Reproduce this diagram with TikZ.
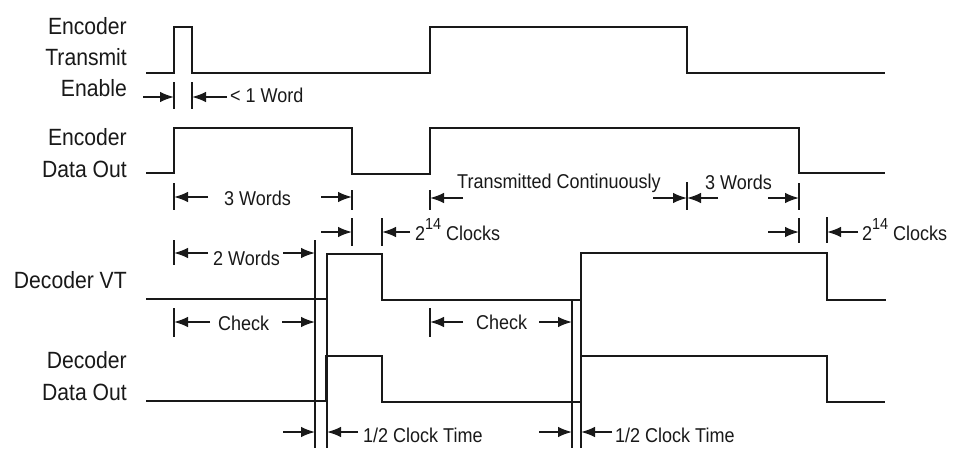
\documentclass[tikz,border=0pt]{standalone}
\usepackage{fontspec}
\setmainfont[FakeStretch=0.9]{Liberation Sans}
\usetikzlibrary{arrows.meta}
\definecolor{ink}{RGB}{25,25,25}
\newcommand\clockspow{2\raisebox{11pt}{\fontsize{16}{16}\selectfont 14} Clocks}
\begin{document}
\begin{tikzpicture}[x=1pt,y=-1pt,
  sig/.style={draw=ink, line width=1.8pt, line join=miter},
  ext/.style={draw=ink, line width=1.6pt},
  dimarrow/.style={draw=ink, line width=1.6pt, -{Latex[length=14pt,width=10.5pt]}},
  lab/.style={text=ink, font=\fontsize{23.5}{26}\selectfont, anchor=base east, inner sep=0pt},
  dimlab/.style={text=ink, font=\fontsize{20}{22}\selectfont, anchor=base west, inner sep=0pt}]
\useasboundingbox[fill=white] (0,0) rectangle (955,452);

% ---------- signal labels ----------
\node[lab] (l1a) at (127,34.5) {Encoder};
\node[lab] (l1b) at (127,65.5) {Transmit};
\node[lab] (l1c) at (127,96.5) {Enable};
\node[lab] (l2a) at (127,145) {Encoder};
\node[lab] (l2b) at (127,177) {Data Out};
\node[lab] (l3a) at (127,288) {Decoder VT};
\node[lab] (l4a) at (127,368) {Decoder};
\node[lab] (l4b) at (127,400) {Data Out};

% ---------- waveforms ----------
\draw[sig] (146,73) -- (174,73) -- (174,27) -- (192,27) -- (192,73) -- (430,73) -- (430,27) -- (687,27) -- (687,73) -- (885,73);
\draw[sig] (146,173) -- (174,173) -- (174,128) -- (352,128) -- (352,174) -- (430,174) -- (430,128) -- (799,128) -- (799,173) -- (885,173);
\draw[sig] (146,299) -- (327,299) -- (327,254) -- (382,254) -- (382,300) -- (581,300) -- (581,253) -- (827,253) -- (827,300) -- (886,300);
\draw[sig] (146,401) -- (326,401) -- (326,356) -- (382,356) -- (382,402) -- (581,402) -- (581,356) -- (827,356) -- (827,402) -- (885,402);

% ---------- long extension lines ----------
\draw[ext] (315,240) -- (315,448);
\draw[ext] (327,254) -- (327,448);
\draw[ext] (572,300) -- (572,448);
\draw[ext] (581,253) -- (581,448);

% ---------- < 1 Word ----------
\draw[ext] (174,82) -- (174,109);
\draw[ext] (192,82) -- (192,109);
\draw[dimarrow] (143,97) -- (174,97);
\draw[dimarrow] (227,97) -- (192,97);
\node[dimlab] (t1) at (230,102) {< 1 Word};

% ---------- 3 Words (first) ----------
\draw[ext] (174,183) -- (174,210);
\draw[ext] (352,190) -- (352,210);
\draw[dimarrow] (208,197) -- (174,197);
\draw[dimarrow] (321,197) -- (352,197);
\node[dimlab] (t2) at (224,205) {3 Words};

% ---------- Transmitted Continuously / 3 Words ----------
\draw[ext] (430,190) -- (430,210);
\draw[ext] (687,182) -- (687,210);
\draw[ext] (799,183) -- (799,210);
\draw[dimarrow] (463,198) -- (430,198);
\draw[dimarrow] (653,198) -- (687,198);
\draw[dimarrow] (718,198) -- (687,198);
\draw[dimarrow] (768,198) -- (799,198);
\node[dimlab] (t3) at (457,188) {Transmitted Continuously};
\node[dimlab] (t4) at (705,189) {3 Words};

% ---------- 2^14 Clocks ----------
\draw[ext] (352,218) -- (352,246);
\draw[ext] (382,218) -- (382,246);
\draw[ext] (799,218) -- (799,243);
\draw[ext] (827,217) -- (827,243);
\draw[dimarrow] (321,232) -- (352,232);
\draw[dimarrow] (410,232) -- (382,232);
\draw[dimarrow] (768,232) -- (799,232);
\draw[dimarrow] (858,232) -- (827,232);
\node[dimlab] (t5) at (415,240) {\clockspow};
\node[dimlab] (t6) at (862,240) {\clockspow};

% ---------- 2 Words ----------
\draw[ext] (174,240) -- (174,265);
\draw[dimarrow] (208,253) -- (174,253);
\draw[dimarrow] (283,253) -- (315,253);
\node[dimlab] (t7) at (213,265) {2 Words};

% ---------- Check ----------
\draw[ext] (174,308) -- (174,337);
\draw[ext] (430,308) -- (430,337);
\draw[dimarrow] (210,322) -- (174,322);
\draw[dimarrow] (282,322) -- (315,322);
\draw[dimarrow] (463,322) -- (430,322);
\draw[dimarrow] (539,322) -- (572,322);
\node[dimlab] (t8) at (218,330) {Check};
\node[dimlab] (t9) at (476,329) {Check};

% ---------- 1/2 Clock Time ----------
\draw[dimarrow] (283,432) -- (315,432);
\draw[dimarrow] (358,432) -- (327,432);
\draw[dimarrow] (539,432) -- (572,432);
\draw[dimarrow] (612,432) -- (581,432);
\node[dimlab] (t10) at (363,442) {1/2 Clock Time};
\node[dimlab] (t11) at (615,442) {1/2 Clock Time};
\end{tikzpicture}
\end{document}
